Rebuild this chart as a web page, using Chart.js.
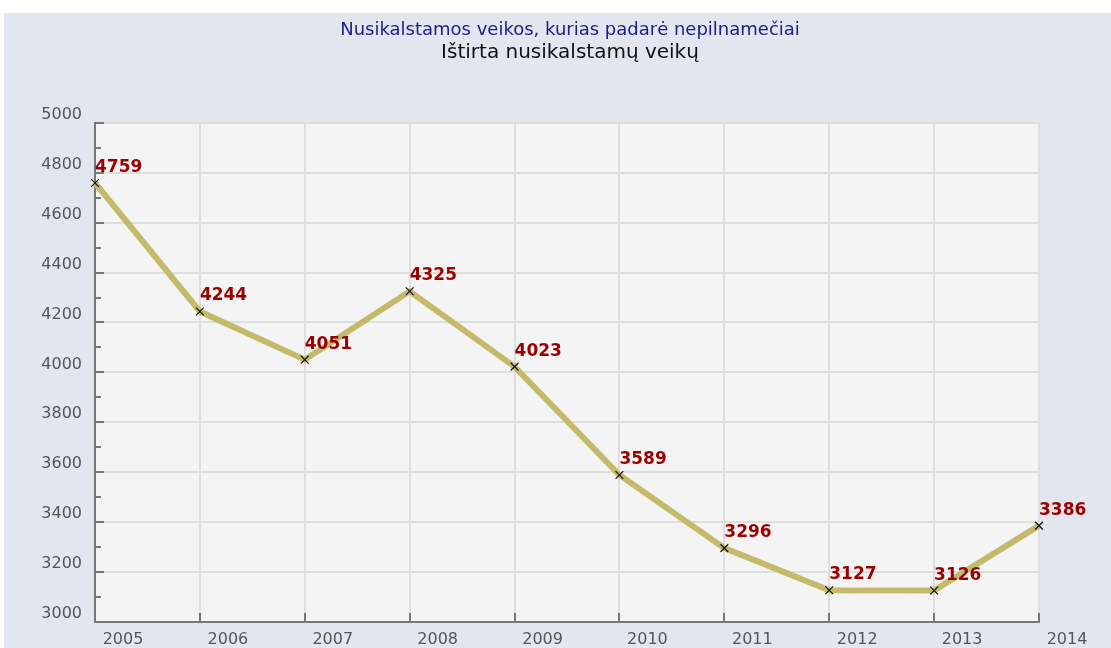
<!DOCTYPE html>
<html>
<head>
<meta charset="utf-8">
<script src="https://cdn.jsdelivr.net/npm/chart.js@4/dist/chart.umd.min.js"></script>
<style>
  html, body { margin: 0; padding: 0; background: #ffffff; }
  #box { width: 1111px; height: 648px; }
</style>
</head>
<body>
<div id="box"><canvas id="crimeChart" width="1111" height="648"></canvas></div>
<script>
let years = ["2005","2006","2007","2008","2009","2010","2011","2012","2013","2014"];
let crimes = [4759, 4244, 4051, 4325, 4023, 3589, 3296, 3127, 3126, 3386];
let yMin = 3000;
let yMax = 5000;
let yStep = 200;

// outer panel + plot area backgrounds
const backgrounds = {
    id: "backgrounds",
    beforeDraw(chart){
        const ctx = chart.ctx;
        const a = chart.chartArea;
        ctx.save();
        ctx.fillStyle = "#ffffff";
        ctx.fillRect(0, 0, chart.width, chart.height);
        ctx.fillStyle = "#e1e6ef";
        ctx.fillRect(4, 13, chart.width - 4, chart.height - 13);
        ctx.fillStyle = "#f4f4f4";
        ctx.fillRect(a.left, a.top, a.right - a.left, a.bottom - a.top);
        ctx.restore();
    }
};

// titles are centred on the whole panel, not the plot
const centreTitles = {
    id: "centreTitles",
    afterLayout(chart){
        chart.boxes.forEach(b =>{
            if(b.position === "top" && b.options && b.options.text !== undefined){
                b.left = 29;
                b.right = chart.width;
            }
        });
    }
};

// small tick marks drawn inward from the axes
const innerTicks = {
    id: "innerTicks",
    afterDatasetsDraw(chart){
        const ctx = chart.ctx;
        const a = chart.chartArea;
        const ys = chart.scales.y;
        const xs = chart.scales.x;
        ctx.save();
        ctx.strokeStyle = "#777777";
        ctx.lineWidth = 2;
        ctx.beginPath();
        for(let v = yMin; v <= yMax; v += yStep / 2){
            let py = Math.round(ys.getPixelForValue(v));
            let len = (v % yStep === 0) ? 9 : 6;
            ctx.moveTo(a.left, py);
            ctx.lineTo(a.left + len, py);
        }
        years.forEach((y, i) =>{
            let px = Math.round(xs.getPixelForValue(i));
            ctx.moveTo(px, a.bottom);
            ctx.lineTo(px, a.bottom - 9);
        });
        ctx.stroke();
        ctx.restore();
    }
};

// value labels above each point
const valueLabels = {
    id: "valueLabels",
    afterDatasetsDraw(chart){
        const ctx = chart.ctx;
        const meta = chart.getDatasetMeta(0);
        ctx.save();
        ctx.font = "bold 17px 'DejaVu Sans'";
        ctx.fillStyle = "#9b0000";
        ctx.textAlign = "left";
        ctx.textBaseline = "alphabetic";
        meta.data.forEach((pt, i) =>{
            ctx.fillText(String(crimes[i]), pt.x, pt.y - 11);
        });
        ctx.restore();
    }
};

new Chart("crimeChart", {
    type: "line",
    data: {
        labels: years,
        datasets: [{
            label: "Ištirta nusikalstamų veikų",
            data: crimes,
            borderColor: "#c4ba6a",
            borderWidth: 6,
            tension: 0,
            pointStyle: "crossRot",
            pointRadius: 5.5,
            pointBorderColor: "#111111",
            pointBorderWidth: 1.2,
            pointHoverRadius: 5.5
        }]
    },
    options: {
        responsive: false,
        animation: false,
        layout: {
            padding: { left: 0, right: 72, top: 0, bottom: 0 }
        },
        scales: {
            x: {
                offset: false,
                grid: { color: "#dedede", lineWidth: 2, drawTicks: false },
                border: { display: true, color: "#777777", width: 2 },
                ticks: {
                    color: "#555555",
                    font: { family: "'DejaVu Sans'", size: 16 },
                    padding: 8,
                    labelOffset: 28,
                    maxRotation: 0,
                    autoSkip: false
                },
                afterFit(scale){ scale.height = 26; }
            },
            y: {
                min: yMin,
                max: yMax,
                grid: { color: "#dedede", lineWidth: 2, drawTicks: false },
                border: { display: true, color: "#777777", width: 2 },
                ticks: {
                    stepSize: yStep,
                    color: "#555555",
                    font: { family: "'DejaVu Sans'", size: 16 },
                    padding: 13,
                    labelOffset: -8,
                    callback: v => String(v)
                },
                afterFit(scale){ scale.width = 95; }
            }
        },
        plugins: {
            legend: { display: false },
            tooltip: { enabled: false },
            title: {
                display: true,
                text: "Nusikalstamos veikos, kurias padarė nepilnamečiai",
                color: "#1c1c8c",
                font: { family: "'DejaVu Sans'", size: 18, weight: "normal", lineHeight: 1.1 },
                padding: { top: 20, bottom: 2 }
            },
            subtitle: {
                display: true,
                text: "Ištirta nusikalstamų veikų",
                color: "#111111",
                font: { family: "'DejaVu Sans'", size: 20, weight: "normal", lineHeight: 1.1 },
                padding: { top: 0, bottom: 59 }
            }
        }
    },
    plugins: [backgrounds, centreTitles, innerTicks, valueLabels]
});
</script>
</body>
</html>
